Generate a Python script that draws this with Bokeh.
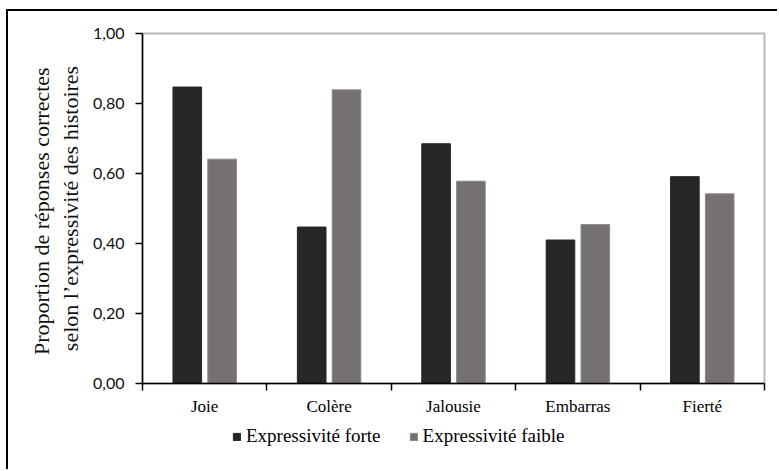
from bokeh.plotting import figure
from bokeh.layouts import column
from bokeh.models import (ColumnDataSource, FixedTicker, Range1d, Legend, LegendItem)
from bokeh.embed import file_html
from bokeh.resources import INLINE

# ---- data ----
categories = ["Joie", "Colère", "Jalousie", "Embarras", "Fierté"]
series_names = ["Expressivité forte", "Expressivité faible"]
forte = [0.847, 0.447, 0.685, 0.410, 0.591]
faible = [0.641, 0.839, 0.578, 0.454, 0.542]
y_ticks = [0.0, 0.2, 0.4, 0.6, 0.8, 1.0]
y_tick_labels = ["0,00", "0,20", "0,40", "0,60", "0,80", "1,00"]
y_title = "Proportion de réponses  correctes\nselon l\u2019expressivité des histoires"

DARK = "#262626"
GRAY = "#767171"
GRAY_EDGE = "#8d8989"
SERIF = "Liberation Serif"

n = len(categories)
centers = [i + 0.5 for i in range(n)]
offset = 0.14
bar_w = 0.23

src = ColumnDataSource(dict(
    x1=[c - offset for c in centers],
    x2=[c + offset for c in centers],
    forte=forte,
    faible=faible,
))

p = figure(width=771, height=409, output_backend="svg", toolbar_location=None,
           x_range=Range1d(0, n), y_range=Range1d(0, 1),
           min_border_left=134, min_border_right=15, min_border_top=22, min_border_bottom=37)
p.styles = {"border-top": "2px solid black", "border-left": "2px solid black"}

p.xgrid.visible = False
p.ygrid.visible = False
p.outline_line_color = "#b8b8b8"
p.outline_line_width = 2
p.background_fill_color = "white"
p.border_fill_color = "white"

r1 = p.vbar(x="x1", top="forte", width=bar_w, source=src, fill_color=DARK, line_color=DARK)
r2 = p.vbar(x="x2", top="faible", width=bar_w, source=src, fill_color=GRAY, line_color=GRAY_EDGE)

# x axis: labels at centers, ticks at boundaries
xa = p.xaxis[0]
xa.ticker = FixedTicker(ticks=centers, minor_ticks=list(range(n + 1)))
xa.major_label_overrides = {c: cat for c, cat in zip(centers, categories)}
xa.major_tick_out = 0
xa.major_tick_in = 0
xa.minor_tick_out = 7
xa.minor_tick_in = 0
xa.minor_tick_line_color = "black"
xa.minor_tick_line_width = 1.5
xa.axis_line_color = "black"
xa.axis_line_width = 1.5
xa.major_label_text_font = SERIF
xa.major_label_text_font_size = "17px"
xa.major_label_text_color = "black"
xa.major_label_standoff = 6

ya = p.yaxis[0]
ya.ticker = FixedTicker(ticks=y_ticks, minor_ticks=[])
ya.major_label_overrides = {t: l for t, l in zip(y_ticks, y_tick_labels)}
ya.major_tick_out = 7
ya.major_tick_in = 0
ya.major_tick_line_width = 1.5
ya.major_tick_line_color = "black"
ya.axis_line_color = "black"
ya.axis_line_width = 1.5
ya.major_label_text_font = "Lato"
ya.major_label_text_font_size = "16px"
ya.major_label_text_color = "#111111"
ya.major_label_standoff = 11
ya.axis_label = y_title
ya.axis_label_text_font = SERIF
ya.axis_label_text_font_size = "22px"
ya.axis_label_text_font_style = "normal"
ya.axis_label_text_color = "#111111"
ya.axis_label_text_line_height = 1.18
ya.axis_label_standoff = 7

# ---- legend strip (separate figure below the chart; its view shows no bars) ----
p2 = figure(width=771, height=51, output_backend="svg", toolbar_location=None,
            x_range=Range1d(0, n), y_range=Range1d(2, 3),
            x_axis_location=None, y_axis_location=None,
            min_border_left=0, min_border_right=0, min_border_top=0, min_border_bottom=0)
p2.styles = {"border-left": "2px solid black"}
p2.grid.visible = False
p2.outline_line_color = None
p2.background_fill_color = "white"
p2.border_fill_color = "white"

l1 = p2.vbar(x="x1", top="forte", width=bar_w, source=src, fill_color=DARK, line_color=DARK)
l2 = p2.vbar(x="x2", top="faible", width=bar_w, source=src, fill_color=GRAY, line_color=GRAY_EDGE)

legend = Legend(items=[LegendItem(label=series_names[0], renderers=[l1], index=0),
                       LegendItem(label=series_names[1], renderers=[l2], index=0)],
                orientation="horizontal", location=(90, 22))
legend.border_line_color = None
legend.background_fill_alpha = 0
legend.padding = 0
legend.margin = 0
legend.spacing = 28
legend.label_standoff = 5
legend.glyph_width = 9
legend.glyph_height = 9
legend.label_text_font = SERIF
legend.label_text_font_size = "19px"
legend.label_text_color = "black"
p2.add_layout(legend, "center")

layout = column(p, p2, spacing=0)
layout.styles = {"margin-left": "6px", "margin-top": "9px"}
open("out.html", "w").write(file_html(layout, INLINE))
